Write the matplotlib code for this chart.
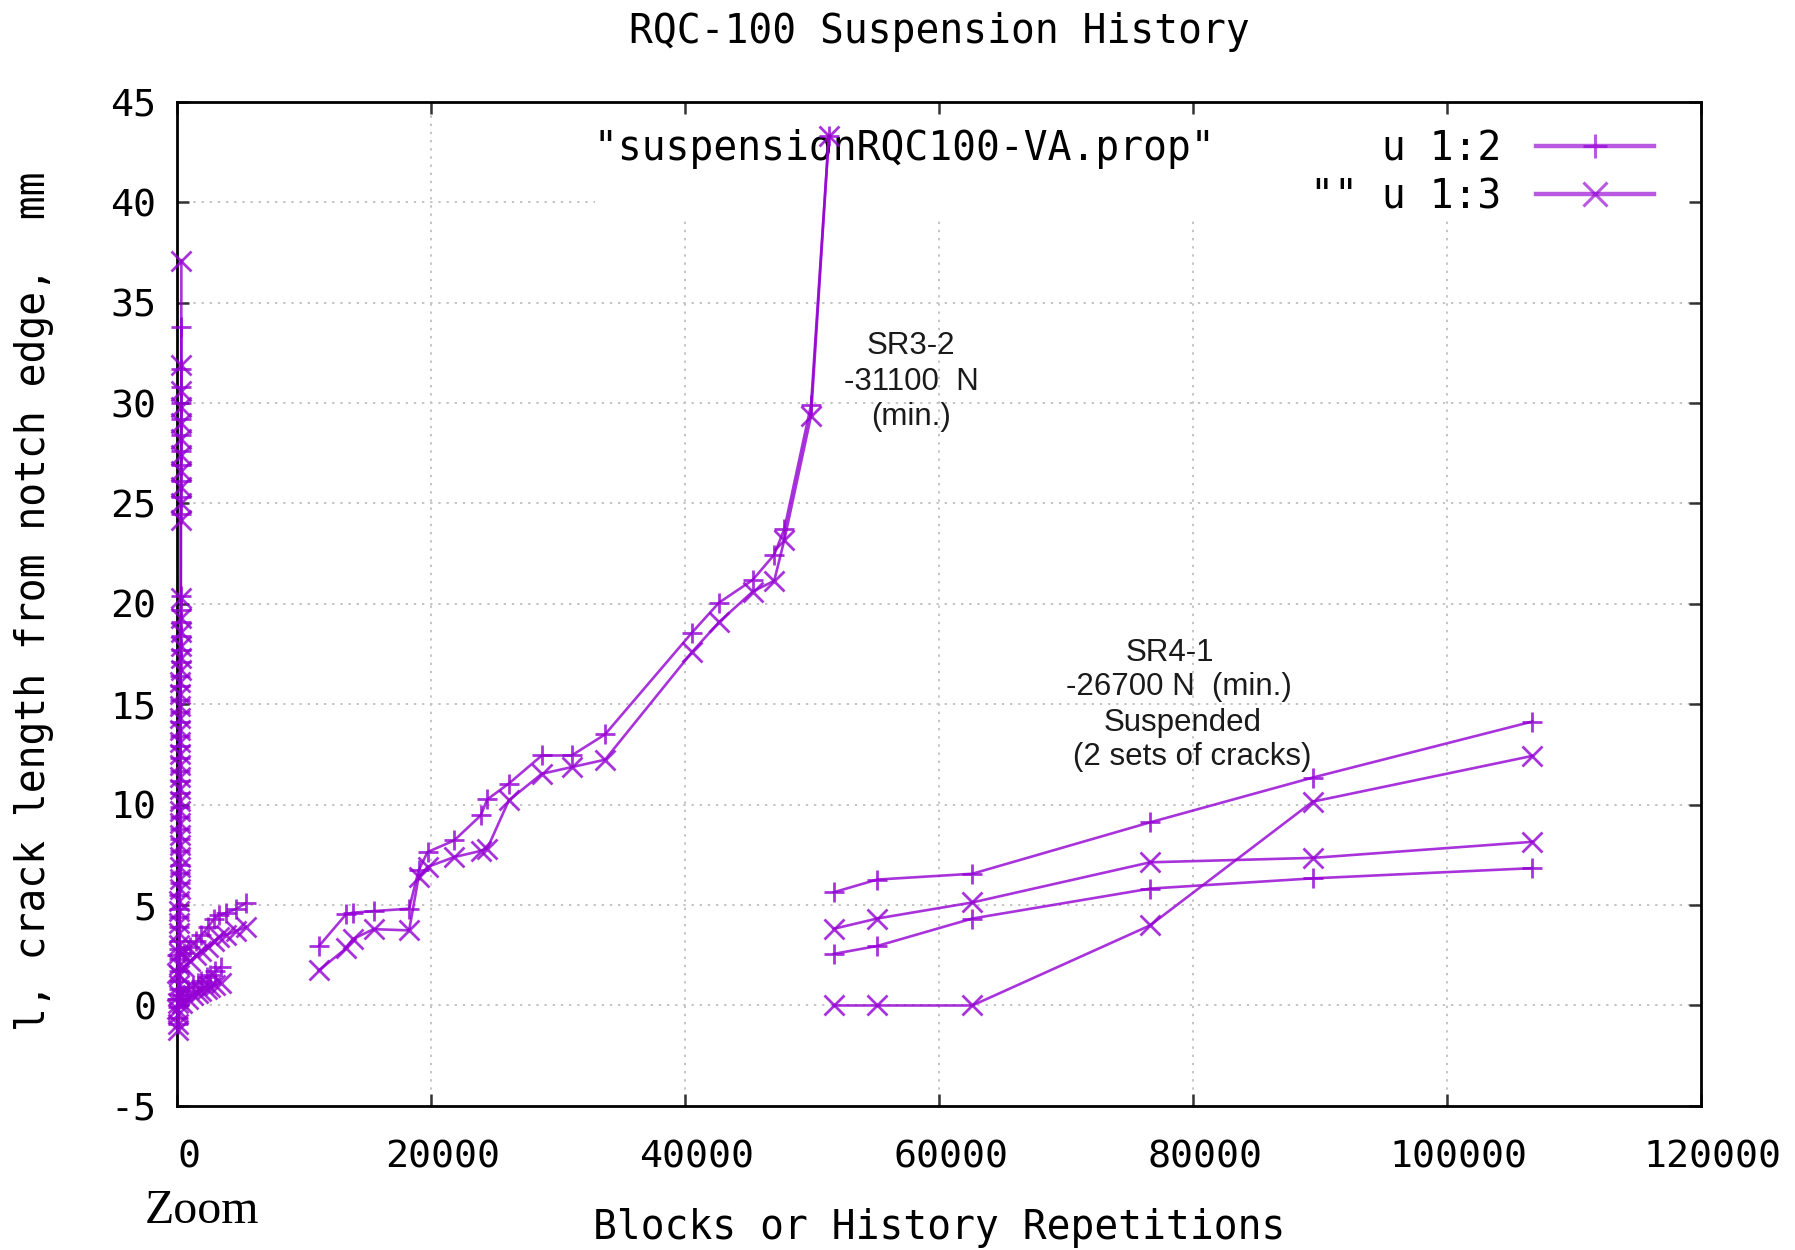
import matplotlib
matplotlib.use("Agg")
import matplotlib.pyplot as plt
from matplotlib.lines import Line2D
from matplotlib.patches import Rectangle
from matplotlib.transforms import ScaledTranslation
from matplotlib.font_manager import FontProperties

# ---------------- data ----------------
# near-zero cluster (very short-life specimen)
cluster_x = [40, 55, 70, 80, 95, 105, 115, 120, 130, 140,
             145, 150, 160, 165, 170, 175, 180, 185, 190, 195,
             200, 204, 208, 212, 216, 220, 224, 228, 232, 236,
             240, 244, 248, 252, 256, 260, 264, 268, 272, 276,
             280, 284, 288, 292, 296, 300, 304, 308, 312, 316]
cluster_a = [-0.9, -0.6, -0.1, 0.3, 0.8, 1.2, 1.7, 2.3, 2.8, 3.2,
             3.9, 4.4, 4.8, 5.5, 6.1, 6.6, 7.0, 7.7, 8.3, 8.8,
             9.4, 9.9, 10.6, 11.2, 11.7, 12.3, 12.9, 13.4, 14.1, 14.6,
             15.2, 15.9, 16.4, 17.1, 17.7, 18.4, 19.1, 19.7, 20.4, 24.5,
             25.3, 26.1, 26.9, 27.6, 28.4, 29.2, 30.0, 30.8, 31.7, 33.8]
cluster_b = [-1.2, -0.9, -0.4, 0.1, 0.5, 1.0, 1.5, 2.0, 2.6, 3.0,
             3.6, 4.1, 4.7, 5.2, 5.8, 6.3, 6.9, 7.4, 8.0, 8.5,
             9.1, 9.7, 10.2, 10.8, 11.4, 12.0, 12.5, 13.1, 13.7, 14.3,
             14.9, 15.5, 16.1, 16.7, 17.3, 17.9, 18.6, 19.3, 20.3, 24.2,
             25.0, 25.8, 26.6, 27.4, 28.2, 29.0, 29.8, 30.6, 31.9, 37.1]

# fans leaving the cluster
fan1_x = [0, 500, 1000, 1500, 1900, 2400, 2900, 3300, 3800, 4600, 5400]
fan1_a = [2.5, 2.6, 2.9, 3.2, 3.5, 3.9, 4.3, 4.5, 4.6, 4.8, 5.1]
fan1_b = [1.6, 1.9, 2.2, 2.5, 2.7, 2.9, 3.2, 3.4, 3.5, 3.7, 3.9]

fan2_x = [0, 400, 800, 1200, 1600, 1900, 2300, 2600, 3000, 3400]
fan2_a = [0.3, 0.5, 0.7, 0.9, 1.1, 1.2, 1.4, 1.5, 1.7, 1.9]
fan2_b = [-0.2, 0.1, 0.3, 0.5, 0.6, 0.7, 0.8, 0.9, 1.0, 1.1]

# SR3-2, -31100 N (min.)
sr32_x = [11150, 13300, 13800, 15450, 18250, 19000, 19700, 21800, 23900, 24400, 26100,
          28700, 31050, 33680, 40500, 42650, 45300, 47000, 47800, 49900, 51300]
sr32_a = [2.96, 4.55, 4.62, 4.70, 4.82, 6.73, 7.64, 8.22, 9.47, 10.26, 11.05,
          12.45, 12.45, 13.50, 18.55, 20.06, 21.19, 22.45, 23.74, 29.91, 43.3]
sr32_b = [1.75, 2.85, 3.30, 3.80, 3.74, 6.40, 6.90, 7.39, 7.70, 7.81, 10.21,
          11.54, 11.87, 12.24, 17.58, 19.09, 20.61, 21.15, 23.20, 29.37, 43.3]

# SR4-1, -26700 N (min.), suspended, 2 sets of cracks
sr41_x = [51700, 55100, 62600, 76600, 89400, 106700]
sr41_a1 = [5.64, 6.27, 6.56, 9.12, 11.35, 14.14]
sr41_b1 = [3.82, 4.33, 5.13, 7.13, 7.35, 8.15]
sr41_a2 = [2.57, 2.96, 4.33, 5.82, 6.33, 6.84]
sr41_b2 = [0.0, 0.0, 0.0, 3.99, 10.15, 12.43]

xticks = [0, 20000, 40000, 60000, 80000, 100000, 120000]
yticks = [-5, 0, 5, 10, 15, 20, 25, 30, 35, 40, 45]
xgrid = [20000, 40000, 60000, 80000, 100000]
ygrid = [0, 5, 10, 15, 20, 25, 30, 35, 40]

title = "RQC-100 Suspension History"
xlabel = "Blocks or History Repetitions"
ylabel = "l, crack length from notch edge,  mm"
key_labels = ['"suspensionRQC100-VA.prop"       u 1:2',
              '                              "" u 1:3']

# ---------------- style ----------------
PURPLE = "#9400d3"
plt.rcParams["font.family"] = ["DejaVu Sans Mono"]
FS = 28.5

fig = plt.figure(figsize=(17.95, 12.5), dpi=100)
ax = fig.add_axes([0.0988, 0.1153, 0.849, 0.8032])
ax.set_xlim(0, 120000)
ax.set_ylim(-5, 45)
ax.set_xticks(xticks)
ax.set_yticks(yticks)
ax.set_xticklabels([str(v) for v in xticks])
ax.set_yticklabels([str(v) for v in yticks])

# grid (dotted)
for v in xgrid:
    ax.axvline(v, color="#c4c4c4", lw=1.4, ls=(0, (1.2, 3.0)), zorder=0.6)
for v in ygrid:
    ax.axhline(v, color="#c4c4c4", lw=1.4, ls=(0, (1.2, 3.0)), zorder=0.6)

# opaque key area
ax.add_patch(Rectangle((0.274, 0.885), 0.726, 0.115, transform=ax.transAxes,
                       facecolor="white", edgecolor="none", zorder=1))


def draw(x, a, b):
    ax.plot(x, a, color=PURPLE, lw=1.9, marker="+", ms=14, mew=2.0, alpha=0.8,
            clip_on=False, zorder=3)
    ax.plot(x, b, color=PURPLE, lw=1.9, marker="x", ms=15, mew=2.0, alpha=0.8,
            clip_on=False, zorder=3)


draw(cluster_x, cluster_a, cluster_b)
draw(fan1_x, fan1_a, fan1_b)
draw(fan2_x, fan2_a, fan2_b)
draw(sr32_x, sr32_a, sr32_b)
draw(sr41_x, sr41_a1, sr41_b1)
draw(sr41_x, sr41_a2, sr41_b2)

# spines / ticks
for s in ax.spines.values():
    s.set_linewidth(2.0)
    s.set_color("black")
ax.tick_params(direction="in", length=8.5, width=1.8, top=True, right=True,
               color="#333333", labelsize=27.5)
ax.tick_params(axis="x", pad=24)
ax.tick_params(axis="y", pad=15)
offset = ScaledTranslation(0.115, 0, fig.dpi_scale_trans)
for lab in ax.get_xticklabels():
    lab.set_transform(lab.get_transform() + offset)

# key
handles = [Line2D([], [], color=PURPLE, lw=3.2, marker="+", ms=17, mew=2.2, alpha=0.65),
           Line2D([], [], color=PURPLE, lw=3.2, marker="x", ms=17, mew=2.2, alpha=0.65)]
leg = ax.legend(handles, key_labels, loc="upper right", bbox_to_anchor=(0.9692, 0.973),
                borderaxespad=0, borderpad=0, handlelength=3.0, handletextpad=0.88,
                labelspacing=0.21, markerfirst=False, frameon=False,
                prop=FontProperties(family="DejaVu Sans Mono", size=FS))
leg.set_zorder(2)

# annotations
ann_font = dict(family="Liberation Sans", size=22.5, ha="center", va="center", color="#1a1a1a")
ax.text(57800, 32.84, "SR3-2", **ann_font)
ax.text(57800, 31.07, "-31100  N", **ann_font)
ax.text(57800, 29.30, "(min.)", **ann_font)
ax.text(78180, 17.56, "SR4-1", **ann_font)
ax.text(78890, 15.85, "-26700 N  (min.)", **ann_font)
ax.text(79170, 14.08, "Suspended", **ann_font)
ax.text(79890, 12.37, "(2 sets of cracks)", **ann_font)

# titles / labels
fig.text(0.5233, 0.9744, title, ha="center", va="center", size=FS)
fig.text(0.5233, 0.0178, xlabel, ha="center", va="center", size=FS)
fig.text(0.019, 0.519, ylabel, ha="center", va="center", rotation=90, size=FS)
fig.text(0.0808, 0.0309, "Zoom", ha="left", va="center", family="Liberation Serif", size=34.5)

fig.savefig("out.png", dpi=100)
